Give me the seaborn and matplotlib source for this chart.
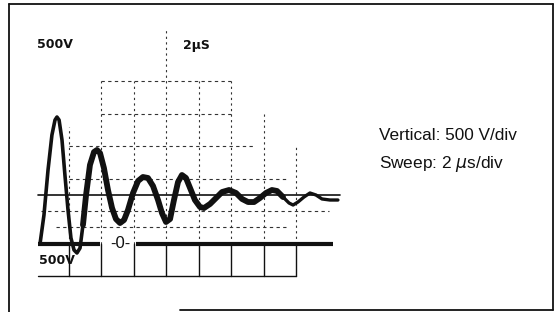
import matplotlib
matplotlib.use("Agg")
import matplotlib.pyplot as plt
import seaborn as sns
from matplotlib.lines import Line2D

# ---- data (time in microseconds, voltage in volts) ----
pulse_t = [0.25, 0.49, 0.74, 0.98, 1.17, 1.29, 1.42, 1.60, 1.78, 1.97, 2.15, 2.34, 2.52, 2.71, 2.89]
pulse_v = [0, 438, 1131, 1669, 1900, 1946, 1900, 1592, 1054, 515, 85, -100, -146, -69, 285]

ring_t = [2.89, 3.08, 3.32, 3.57, 3.75, 3.94, 4.18, 4.43, 4.68, 4.92, 5.17, 5.42, 5.66, 5.97,
          6.28, 6.58, 6.89, 7.20, 7.51, 7.75, 8.00, 8.25, 8.49, 8.74, 8.98, 9.23, 9.48, 9.78,
          10.09, 10.34, 10.71, 11.08, 11.45, 11.88, 12.31, 12.68, 13.05, 13.42, 13.78, 14.15,
          14.52, 14.83, 15.20]
ring_v = [285, 746, 1208, 1408, 1438, 1392, 1162, 823, 546, 377, 315, 362, 515, 777,
          962, 1023, 1008, 885, 669, 469, 331, 377, 669, 946, 1054, 1008, 854, 669,
          562, 546, 608, 700, 792, 823, 777, 685, 638, 638, 700, 777,
          823, 808, 715]

tail_t = [15.20, 15.57, 15.82, 16.12, 16.49, 16.86, 17.23, 17.60, 18.09, 18.58]
tail_v = [715, 623, 592, 638, 715, 777, 746, 685, 669, 669]

settle_level = 746          # thin steady-state line (V)
zero_left = [0.12, 3.94]     # zero baseline segments (us)
zero_right = [6.15, 18.25]
grid_t = [2, 4, 6, 8, 10, 12, 14, 16]

# ---- figure ----
sns.set_theme(style="white")
plt.rcParams["font.family"] = ["Liberation Sans", "DejaVu Sans"]

W, H = 558, 312
fig = plt.figure(figsize=(W / 100, H / 100), dpi=100)
ax = fig.add_axes([0, 0, 1, 1])
PX_US = 16.25          # pixels per microsecond
PX_V = 32.5 / 500      # pixels per volt
X0, Y0 = 36, 243.5     # pixel of t=0, V=0

ink = "#111111"
grid_c = "#333333"

# graticule: vertical lines, dotted above zero, solid below
tops = {2: 1800, 4: 2500, 6: 2500, 8: 3300, 10: 2500, 12: 2500, 14: 2000, 16: 1500}
for t in grid_t:
    ax.plot([t, t], [0, tops[t]], color=grid_c, lw=0.8, ls=(0, (2, 3)))
    ax.plot([t, t], [-500, 0], color=ink, lw=1.0)
ax.plot([0.12, 16], [-500, -500], color=ink, lw=1.0)

hlines = [(2500, 4, 12), (2000, 4, 12), (1500, 2, 13.5), (1000, 2, 15.5),
          (500, 0.3, 18), (250, 1.2, 15.5)]
for v, a, b in hlines:
    ax.plot([a, b], [v, v], color=grid_c, lw=0.8, ls=(0, (3, 3)))

# steady-state line
ax.plot([0.12, 18.7], [settle_level, settle_level], color=ink, lw=1.2)

# zero baseline
ax.plot(zero_left, [0, 0], color=ink, lw=3.0, solid_capstyle="butt")
ax.plot(zero_right, [0, 0], color=ink, lw=3.0, solid_capstyle="butt")

# trace
sns.lineplot(x=pulse_t, y=pulse_v, sort=False, estimator=None, ax=ax,
             color=ink, lw=2.6, solid_joinstyle="round", solid_capstyle="round")
sns.lineplot(x=ring_t, y=ring_v, sort=False, estimator=None, ax=ax,
             color=ink, lw=4.2, solid_joinstyle="round", solid_capstyle="round")
sns.lineplot(x=tail_t, y=tail_v, sort=False, estimator=None, ax=ax,
             color=ink, lw=2.4, solid_joinstyle="round", solid_capstyle="round")
ax.set_xlim(-X0 / PX_US, (W - X0) / PX_US)
ax.set_ylim(-(H - Y0) / PX_V, Y0 / PX_V)
ax.axis("off")

def fx(px):
    return px / W

def fy(py):
    return 1 - py / H

# scope labels
lab = dict(color=ink, fontweight="heavy", family=["Liberation Sans Narrow", "DejaVu Sans"],
           ha="center", va="center", fontsize=9)
fig.text(fx(55), fy(45), "500V", **lab)
fig.text(fx(196), fy(45), "2µS", **lab)
fig.text(fx(57), fy(261), "500V", **lab)
fig.text(fx(120), fy(243), "-0-", color=ink, fontsize=12, ha="center", va="center")

# right-hand legend text
fig.text(fx(379), fy(136), "Vertical: 500 V/div", color=ink, fontsize=12.4,
         ha="left", va="center")
fig.text(fx(379), fy(164), r"Sweep: 2 $\mu$s/div", color=ink, fontsize=12.4,
         ha="left", va="center")

# outer frame
frame = [((9, 4), (553, 4)), ((9, 4), (9, 312)), ((553, 4), (553, 310)),
         ((180, 310), (553, 310))]
for (xa, ya), (xb, yb) in frame:
    fig.add_artist(Line2D([fx(xa), fx(xb)], [fy(ya), fy(yb)], color=ink, lw=1.3,
                          transform=fig.transFigure))

fig.savefig("out.png", dpi=100, facecolor="white")
